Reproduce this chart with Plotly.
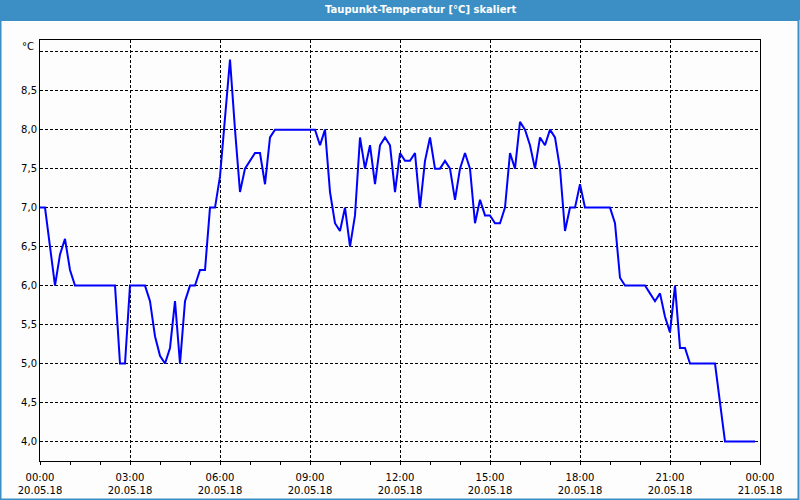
import plotly.graph_objects as go
import pandas as pd

title_text = "Taupunkt-Temperatur [°C] skaliert"
unit_label = "°C"
start_time = "2018-05-20 00:00"
end_time = "2018-05-21 00:00"

# dew point values, 10-minute samples from 00:00
values = [
    7.0, 7.0, 6.5, 6.0, 6.4, 6.6, 6.2, 6.0, 6.0, 6.0,
    6.0, 6.0, 6.0, 6.0, 6.0, 6.0, 5.0, 5.0, 6.0, 6.0,
    6.0, 6.0, 5.8, 5.35, 5.1, 5.0, 5.2, 5.8, 5.0, 5.8,
    6.0, 6.0, 6.2, 6.2, 7.0, 7.0, 7.4, 8.2, 8.9, 8.0,
    7.2, 7.5, 7.6, 7.7, 7.7, 7.3, 7.9, 8.0, 8.0, 8.0,
    8.0, 8.0, 8.0, 8.0, 8.0, 8.0, 7.8, 8.0, 7.2, 6.8,
    6.7, 7.0, 6.5, 6.9, 7.9, 7.5, 7.8, 7.3, 7.8, 7.9,
    7.8, 7.2, 7.7, 7.6, 7.6, 7.7, 7.0, 7.6, 7.9, 7.5,
    7.5, 7.6, 7.5, 7.1, 7.5, 7.7, 7.5, 6.8, 7.1, 6.9,
    6.9, 6.8, 6.8, 7.0, 7.7, 7.5, 8.1, 8.0, 7.8, 7.5,
    7.9, 7.8, 8.0, 7.9, 7.5, 6.7, 7.0, 7.0, 7.3, 7.0,
    7.0, 7.0, 7.0, 7.0, 7.0, 6.8, 6.1, 6.0, 6.0, 6.0,
    6.0, 6.0, 5.9, 5.8, 5.9, 5.6, 5.4, 6.0, 5.2, 5.2,
    5.0, 5.0, 5.0, 5.0, 5.0, 5.0, 4.5, 4.0, 4.0, 4.0,
    4.0, 4.0, 4.0, 4.0,
]
times = pd.date_range(start_time, periods=len(values), freq="10min")

y_tickvals = [4.0, 4.5, 5.0, 5.5, 6.0, 6.5, 7.0, 7.5, 8.0, 8.5, 9.0]
y_ticktext = ["4,0", "4,5", "5,0", "5,5", "6,0", "6,5", "7,0", "7,5", "8,0", "8,5", ""]

FONT = "DejaVu Sans"
BG = "#fcfdfc"
FRAME = "#3b8fc4"

fig = go.Figure()
fig.add_trace(go.Scatter(
    x=times, y=values, mode="lines",
    line=dict(color="#0000ff", width=2),
    hoverinfo="skip",
))

fig.update_layout(
    width=800, height=500,
    margin=dict(l=40, r=40, t=40, b=39, autoexpand=False),
    paper_bgcolor=BG, plot_bgcolor=BG,
    showlegend=False,
    font=dict(family=FONT, size=10, color="#000000"),
)

fig.update_xaxes(
    type="date",
    range=[start_time, end_time],
    tick0=start_time, dtick=3 * 3600000,
    tickformat="%H:%M<br>%d.%m.%y",
    ticks="outside", ticklen=3, tickcolor="#000000",
    ticklabelstandoff=4, automargin=False,
    showgrid=True, gridcolor="#000000", gridwidth=1, griddash="3px,2px",
    minor=dict(dtick=3600000, ticks="outside", ticklen=3, tickcolor="#000000", showgrid=False),
    showline=True, linecolor="#000000", linewidth=1, mirror=True,
    zeroline=False,
    tickfont=dict(family=FONT, size=10, color="#000000"),
)
fig.update_yaxes(
    range=[3.75, 9.15],
    tickvals=y_tickvals, ticktext=y_ticktext,
    ticks="", automargin=False,
    showgrid=True, gridcolor="#000000", gridwidth=1, griddash="3px,2px",
    showline=True, linecolor="#000000", linewidth=1, mirror=True,
    zeroline=False,
    tickfont=dict(family=FONT, size=10, color="#000000"),
)

H = 421.0
# window frame and title bar
fig.add_shape(type="rect", xref="paper", yref="paper",
              x0=-40 / 720, x1=760 / 720, y0=(H + 40) / H, y1=(H + 20) / H,
              fillcolor=FRAME, line=dict(width=0), layer="above")
fig.add_shape(type="rect", xref="paper", yref="paper",
              x0=-39.5 / 720, x1=758.5 / 720, y0=-38.5 / H, y1=(H + 20) / H,
              fillcolor="rgba(0,0,0,0)", line=dict(color=FRAME, width=2), layer="above")

fig.add_annotation(xref="paper", yref="paper", x=380 / 720, y=(H + 30) / H,
                   text="<b>" + title_text + "</b>", showarrow=False,
                   xanchor="center", yanchor="middle",
                   font=dict(family=FONT, size=10, color="#ffffff"))
fig.add_annotation(xref="paper", yref="paper", x=-4 / 720, y=(H - 6) / H,
                   text=unit_label, showarrow=False,
                   xanchor="right", yanchor="middle",
                   font=dict(family=FONT, size=10, color="#000000"))

fig.write_html("out.html")
